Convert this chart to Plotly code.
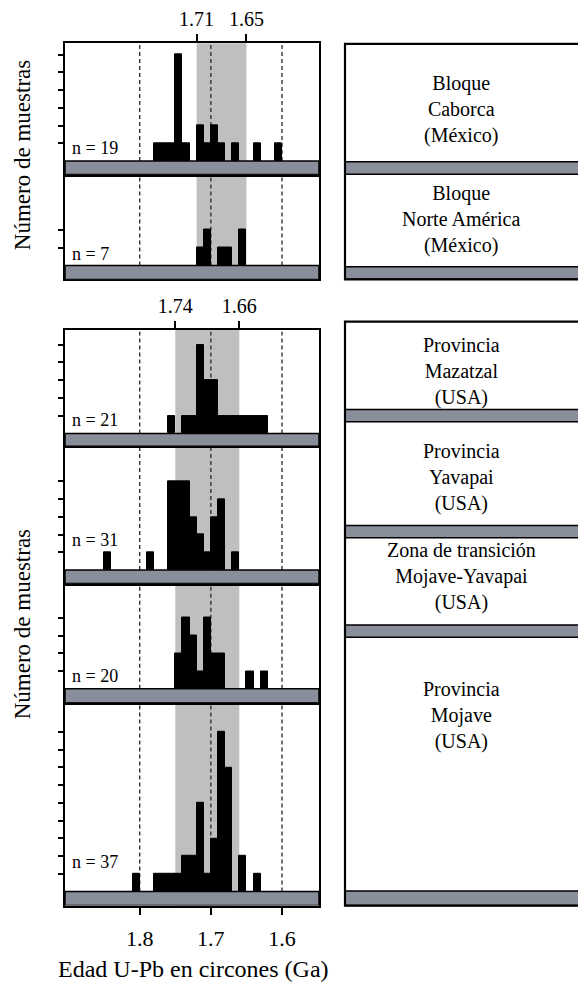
import plotly.graph_objects as go

W, H = 586, 985
FONT = "Liberation Serif"

# ---------------- data ----------------
age_ticks = [1.8, 1.7, 1.6]
age_tick_labels = ["1.8", "1.7", "1.6"]

shade_mexico = [1.72, 1.65]
shade_mexico_labels = ["1.71", "1.65"]
shade_usa = [1.75, 1.66]
shade_usa_labels = ["1.74", "1.66"]

caborca_ages = [1.775, 1.765, 1.755, 1.745, 1.735, 1.715, 1.705, 1.695, 1.685, 1.665, 1.635, 1.605]
caborca_counts = [1, 1, 1, 6, 1, 2, 1, 2, 1, 1, 1, 1]

norteamerica_ages = [1.715, 1.705, 1.685, 1.675, 1.655]
norteamerica_counts = [1, 2, 1, 1, 2]

mazatzal_ages = [1.755, 1.735, 1.725, 1.715, 1.705, 1.695, 1.685, 1.675, 1.665, 1.655, 1.645, 1.635, 1.625]
mazatzal_counts = [1, 1, 1, 5, 3, 3, 1, 1, 1, 1, 1, 1, 1]

yavapai_ages = [1.845, 1.785, 1.755, 1.745, 1.735, 1.725, 1.715, 1.705, 1.695, 1.685, 1.665]
yavapai_counts = [1, 1, 5, 5, 5, 3, 2, 1, 3, 4, 1]

transicion_ages = [1.745, 1.735, 1.725, 1.715, 1.705, 1.695, 1.685, 1.645, 1.625]
transicion_counts = [2, 4, 3, 1, 4, 2, 2, 1, 1]

mojave_ages = [1.805, 1.775, 1.765, 1.755, 1.745, 1.735, 1.725, 1.715, 1.705, 1.695, 1.685, 1.675, 1.655, 1.635]
mojave_counts = [1, 1, 1, 1, 1, 2, 2, 5, 1, 3, 9, 7, 2, 1]

sample_sizes = [19, 7, 21, 31, 20, 37]

region_labels = [
    ["Bloque", "Caborca", "(México)"],
    ["Bloque", "Norte América", "(México)"],
    ["Provincia", "Mazatzal", "(USA)"],
    ["Provincia", "Yavapai", "(USA)"],
    ["Zona de transición", "Mojave-Yavapai", "(USA)"],
    ["Provincia", "Mojave", "(USA)"],
]

y_title = "Número de muestras"
x_title = "Edad U-Pb en circones (Ga)"

# ---------------- layout geometry (screen pixels) ----------------
OFF = 8  # page margin around the plot
LX0, LX1 = 65, 319
AGE_RANGE = [1.905, 1.548]
UNIT = 17.85  # px per count
panel_px = [(37.5, 156, 169.5), (169.5, 261, 275),
            (326, 430, 443), (443, 567.5, 581), (581, 687, 701), (701, 891, 905)]
nlabel_baseline = [148.5, 255, 422, 543, 680, 866.5]
RX0, RX1 = 345, 579.5
right_boxes = [(38, 275), (317.5, 905)]
right_bands = [(156.7, 169.3), (262.3, 275), (406, 418.3), (522.7, 535), (622.7, 635), (890.5, 905)]
label_centers = [103, 214, 367, 473, 573, 713]

GRAY_BAND = "#898e9b"
SHADE = "#bfbfbf"

series = [
    (caborca_ages, caborca_counts, shade_mexico),
    (norteamerica_ages, norteamerica_counts, shade_mexico),
    (mazatzal_ages, mazatzal_counts, shade_usa),
    (yavapai_ages, yavapai_counts, shade_usa),
    (transicion_ages, transicion_counts, shade_usa),
    (mojave_ages, mojave_counts, shade_usa),
]


def py(p):
    return 1 - (p - OFF) / H


def px(p):
    return (p - OFF) / W


fig = go.Figure()
shapes = []
annotations = []
layout_axes = {}

for i, ((ages, counts, shade), (top, base, bot)) in enumerate(zip(series, panel_px)):
    k = i + 1
    xs = "x" if k == 1 else f"x{k}"
    ys = "y" if k == 1 else f"y{k}"
    yrange = [-(bot - base) / UNIT, (base - top) / UNIT]

    fig.add_trace(go.Bar(
        x=ages, y=counts, width=0.01, xaxis=xs, yaxis=ys,
        marker=dict(color="black", line=dict(color="black", width=1)),
        showlegend=False, hoverinfo="x+y"))

    xa = dict(domain=[px(LX0), px(LX1)], range=AGE_RANGE, anchor=ys,
              showline=True, mirror=True, linecolor="black", linewidth=2,
              showgrid=False, zeroline=False, ticks="", showticklabels=False,
              fixedrange=True)
    if i in (0, 2):
        labels = shade_mexico_labels if i == 0 else shade_usa_labels
        xa.update(side="top", tickvals=shade, ticktext=labels, ticks="outside",
                  ticklen=7, tickwidth=1.5, tickcolor="black", showticklabels=True,
                  tickfont=dict(family=FONT, size=20, color="black"))
    if i == 5:
        xa.update(tickvals=age_ticks, ticktext=age_tick_labels, ticks="outside",
                  ticklen=7, tickwidth=1.5, tickcolor="black", showticklabels=True,
                  ticklabelstandoff=5,
                  tickfont=dict(family=FONT, size=22, color="black"))
    ya = dict(domain=[py(bot), py(top)], range=yrange, anchor=xs,
              showline=True, mirror=True, linecolor="black", linewidth=2,
              showgrid=False, zeroline=False, ticks="outside", ticklen=5,
              tickwidth=1.5, tickcolor="black", showticklabels=False,
              tickvals=list(range(1, max(counts) + 1)), fixedrange=True)
    layout_axes["xaxis" if k == 1 else f"xaxis{k}"] = xa
    layout_axes["yaxis" if k == 1 else f"yaxis{k}"] = ya

    shapes.append(dict(type="rect", xref=xs, yref=f"{ys} domain", x0=shade[0], x1=shade[1],
                       y0=0, y1=1, fillcolor=SHADE, line=dict(width=0), layer="below"))
    for a in age_ticks:
        shapes.append(dict(type="line", xref=xs, yref=ys, x0=a, x1=a, y0=0, y1=yrange[1] - 0.1,
                           line=dict(color="#333333", width=1.4, dash="4px,3px"), layer="below"))
    shapes.append(dict(type="rect", xref=f"{xs} domain", yref=ys, x0=0, x1=1,
                       y0=yrange[0], y1=0, fillcolor=GRAY_BAND,
                       line=dict(color="black", width=1.5), layer="above"))
    annotations.append(dict(text=f"n = {sample_sizes[i]}", xref="paper", yref="paper",
                            x=px(71), y=py(nlabel_baseline[i] + 5.5), xanchor="left",
                            yanchor="bottom", showarrow=False, borderpad=0,
                            font=dict(family=FONT, size=18, color="black")))

for (b0, b1) in right_bands:
    shapes.append(dict(type="rect", xref="paper", yref="paper", x0=px(RX0), x1=px(RX1),
                       y0=py(b1), y1=py(b0), fillcolor=GRAY_BAND,
                       line=dict(color="black", width=1.5), layer="above"))
for (t, b) in right_boxes:
    shapes.append(dict(type="rect", xref="paper", yref="paper", x0=px(RX0), x1=px(RX1),
                       y0=py(b), y1=py(t), fillcolor="rgba(0,0,0,0)",
                       line=dict(color="black", width=2.2), layer="above"))
for lines, c in zip(region_labels, label_centers):
    annotations.append(dict(text="<br>".join(lines), xref="paper", yref="paper",
                            x=px((RX0 + RX1) / 2 - 1), y=py(c + 1),
                            xanchor="center", yanchor="middle", align="center",
                            showarrow=False, borderpad=0,
                            font=dict(family=FONT, size=20, color="black")))

for c in (150, 622):
    annotations.append(dict(text=y_title, xref="paper", yref="paper", x=px(22), y=py(c),
                            xanchor="center", yanchor="middle", textangle=-90, showarrow=False,
                            font=dict(family=FONT, size=23, color="black")))
annotations.append(dict(text=x_title, xref="paper", yref="paper", x=px(193), y=py(969),
                        xanchor="center", yanchor="middle", showarrow=False, borderpad=0,
                        font=dict(family=FONT, size=24, color="black")))

fig.update_layout(width=W, height=H, margin=dict(l=0, r=0, t=0, b=0),
                  paper_bgcolor="white", plot_bgcolor="white",
                  barmode="overlay", bargap=0, showlegend=False,
                  font=dict(family=FONT, color="black"),
                  shapes=shapes, annotations=annotations, **layout_axes)

fig.write_html("out.html")
